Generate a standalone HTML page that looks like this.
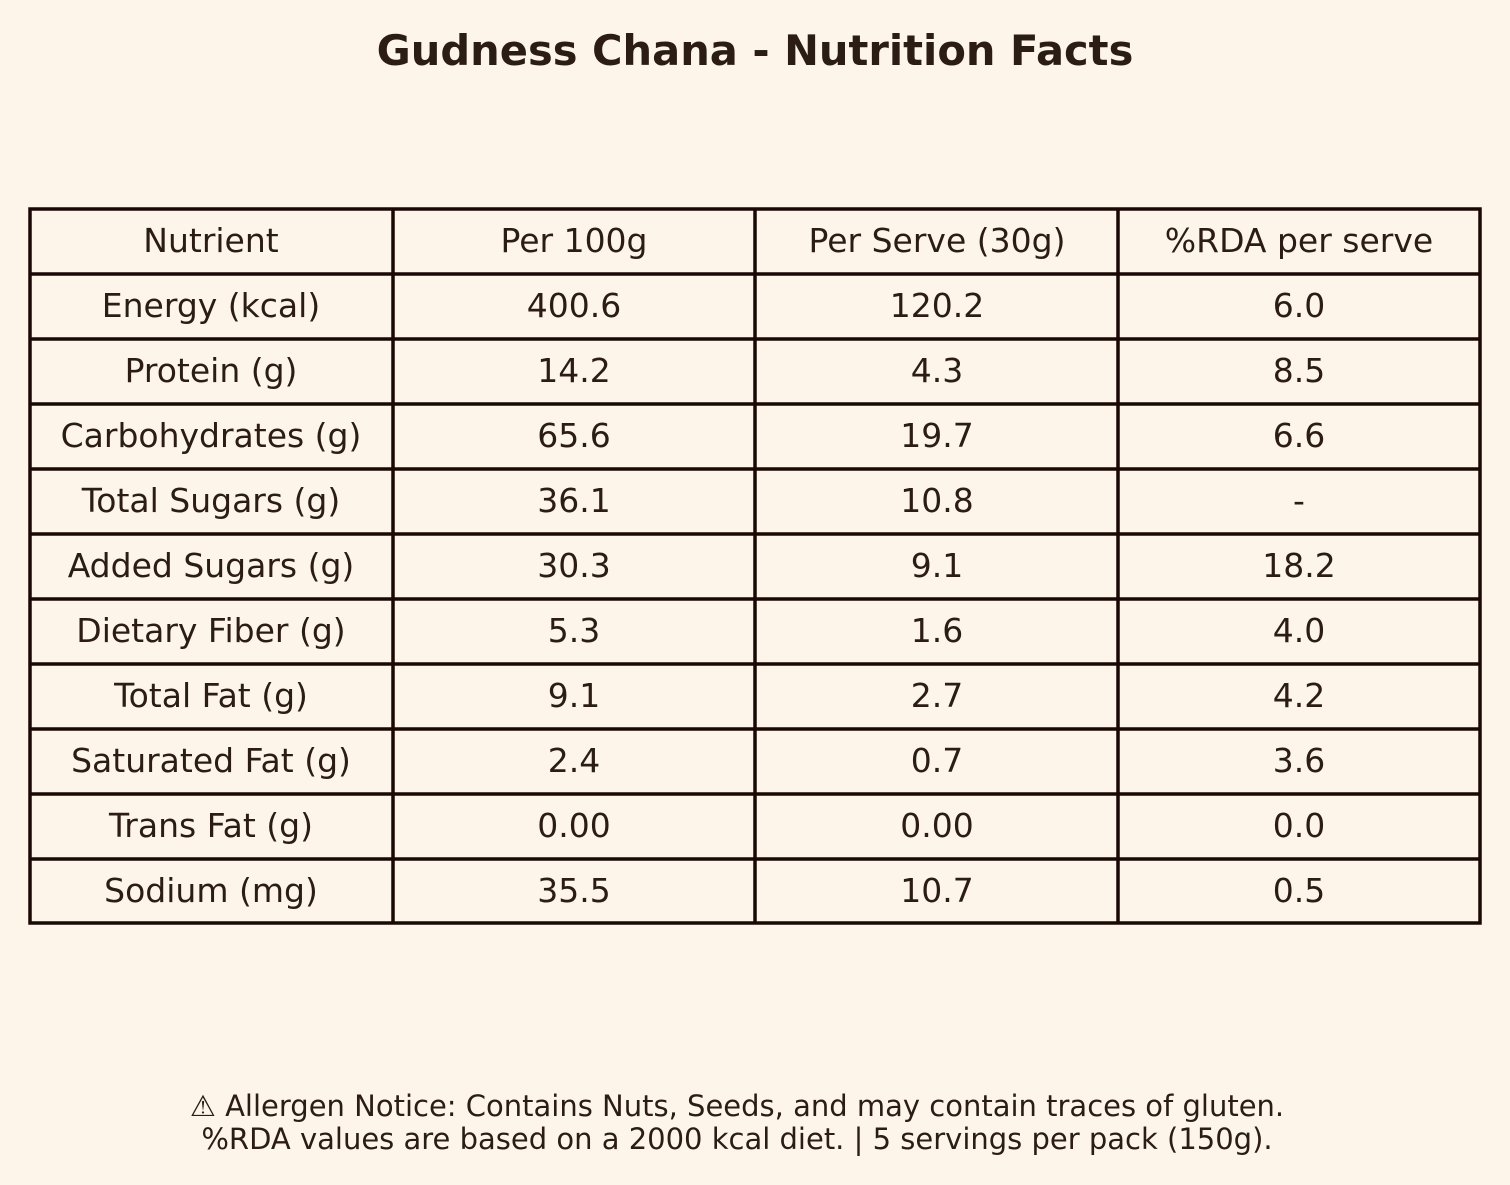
<!DOCTYPE html>
<html><head><meta charset="utf-8"><style>
html,body{margin:0;padding:0;background:#fdf5e9;}
svg{display:block;}
text{font-family:"DejaVu Sans","Liberation Sans",sans-serif;fill:#2b1d14;}
</style></head><body>
<svg width="1510" height="1185" viewBox="0 0 1510 1185" xmlns="http://www.w3.org/2000/svg">
<rect width="1510" height="1185" fill="#fdf5e9"/>
<text x="755" y="65" text-anchor="middle" font-size="41.6" font-weight="bold">Gudness Chana - Nutrition Facts</text>
<g stroke="#1a0805" stroke-width="3.5" fill="none">
<rect x="30" y="209" width="1450" height="714"/>
<line x1="393" y1="209" x2="393" y2="923"/>
<line x1="755" y1="209" x2="755" y2="923"/>
<line x1="1118" y1="209" x2="1118" y2="923"/>
<line x1="30" y1="274" x2="1480" y2="274"/>
<line x1="30" y1="339" x2="1480" y2="339"/>
<line x1="30" y1="404" x2="1480" y2="404"/>
<line x1="30" y1="469" x2="1480" y2="469"/>
<line x1="30" y1="534" x2="1480" y2="534"/>
<line x1="30" y1="599" x2="1480" y2="599"/>
<line x1="30" y1="664" x2="1480" y2="664"/>
<line x1="30" y1="729" x2="1480" y2="729"/>
<line x1="30" y1="794" x2="1480" y2="794"/>
<line x1="30" y1="859" x2="1480" y2="859"/>
</g>
<g font-size="33" text-anchor="middle">
<text x="211" y="252">Nutrient</text><text x="574" y="252">Per 100g</text><text x="937" y="252">Per Serve (30g)</text><text x="1299" y="252">%RDA per serve</text>
<text x="211" y="317">Energy (kcal)</text><text x="574" y="317">400.6</text><text x="937" y="317">120.2</text><text x="1299" y="317">6.0</text>
<text x="211" y="382">Protein (g)</text><text x="574" y="382">14.2</text><text x="937" y="382">4.3</text><text x="1299" y="382">8.5</text>
<text x="211" y="447">Carbohydrates (g)</text><text x="574" y="447">65.6</text><text x="937" y="447">19.7</text><text x="1299" y="447">6.6</text>
<text x="211" y="512">Total Sugars (g)</text><text x="574" y="512">36.1</text><text x="937" y="512">10.8</text><text x="1299" y="512">-</text>
<text x="211" y="577">Added Sugars (g)</text><text x="574" y="577">30.3</text><text x="937" y="577">9.1</text><text x="1299" y="577">18.2</text>
<text x="211" y="642">Dietary Fiber (g)</text><text x="574" y="642">5.3</text><text x="937" y="642">1.6</text><text x="1299" y="642">4.0</text>
<text x="211" y="707">Total Fat (g)</text><text x="574" y="707">9.1</text><text x="937" y="707">2.7</text><text x="1299" y="707">4.2</text>
<text x="211" y="772">Saturated Fat (g)</text><text x="574" y="772">2.4</text><text x="937" y="772">0.7</text><text x="1299" y="772">3.6</text>
<text x="211" y="837">Trans Fat (g)</text><text x="574" y="837">0.00</text><text x="937" y="837">0.00</text><text x="1299" y="837">0.0</text>
<text x="211" y="902">Sodium (mg)</text><text x="574" y="902">35.5</text><text x="937" y="902">10.7</text><text x="1299" y="902">0.5</text>
</g>
<g font-size="29" text-anchor="middle">
<text x="737" y="1116">⚠ Allergen Notice: Contains Nuts, Seeds, and may contain traces of gluten.</text>
<text x="737" y="1149">%RDA values are based on a 2000 kcal diet. | 5 servings per pack (150g).</text>
</g>
</svg>
</body></html>
